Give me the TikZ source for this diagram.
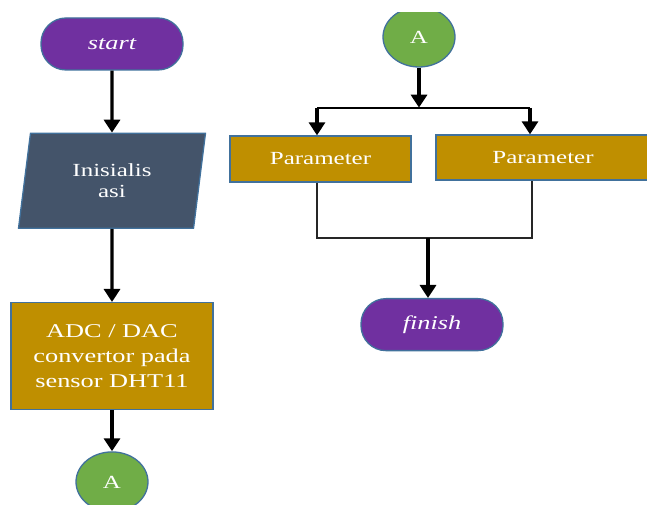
\documentclass[tikz,border=0pt]{standalone}
\usepackage{fontspec}
\setmainfont[FakeStretch=1.35]{Liberation Serif}
\usepackage{xcolor}
\usetikzlibrary{positioning,arrows.meta,shapes.geometric}
\definecolor{termcol}{HTML}{7030A0}
\definecolor{inputcol}{HTML}{44546A}
\definecolor{actcol}{HTML}{BF8F00}
\definecolor{concol}{HTML}{70AD47}
\definecolor{bordercol}{HTML}{41719C}
\tikzset{
>={Triangle[width=16pt,length=13pt]},
}
\begin{document}
\begin{tikzpicture}[x=1pt,y=1pt]
    \tikzset{
        every node/.style={text=white, font=\fontsize{18.5}{21}\selectfont},
        terminal/.style={rectangle, rounded corners=25pt, draw=bordercol, fill=termcol, line width=1.3pt, minimum width=142pt, minimum height=52pt, font=\fontsize{19.5}{22}\selectfont\itshape},
        input/.style={trapezium, trapezium left angle=73.6, trapezium right angle=106.4, trapezium stretches body, draw=bordercol, fill=inputcol, line width=1.3pt, minimum width=187pt, minimum height=95pt, align=center},
        action/.style={rectangle, draw=bordercol, fill=actcol, line width=1.3pt, minimum width=181pt, minimum height=46pt, align=center},
        connector/.style={ellipse, draw=bordercol, fill=concol, line width=1.3pt, minimum width=72pt, minimum height=60pt, inner sep=0pt},
        myarrow/.style={draw, line width=3.4pt, ->},
        myline/.style={draw, line width=1.3pt, black!85},
    }
    \useasboundingbox (0,0) rectangle (647,505);
    \clip (0,0) rectangle (647,492);

    \node[terminal] (item1) at (112,461) {start};
    \node[input, below=62pt of item1] (item2) {Inisialis\\asi};
    \node[action, below=73pt of item2, minimum width=202pt, minimum height=107pt,
          font=\fontsize{19.5}{25}\selectfont] (item3) {ADC / DAC\\convertor pada\\sensor DHT11};
    \node[connector, below=41pt of item3] (item4) {A};

    \node[connector] (item5) at (419,468) {A};
    \node (AuxNode01) [coordinate, below=40pt of item5] {};
    \coordinate (AuxNode02) at (317,397);
    \coordinate (AuxNode03) at (530,397);
    \node[action] (item6) at (320.5,346) {Parameter};
    \node[action, minimum width=214pt, minimum height=45pt] (item7) at (543,347.5) {Parameter};
    \coordinate (AuxNode05) at (428,267);
    \node[terminal, below=60pt of AuxNode05, xshift=4pt] (item8) {finish};

    \path[myarrow] (item1) -- (item2);
    \path[myarrow] (item2) -- (item3);
    \path[myarrow] (item3) -- (item4);
    \path[myarrow] (item5) -- (AuxNode01);
    \draw[line width=2.4pt] (AuxNode02) -- (AuxNode03);
    \path[myarrow] (AuxNode02) -- (AuxNode02 |- item6.north);
    \path[myarrow] (AuxNode03) -- (AuxNode03 |- item7.north);
    \path[myline] (AuxNode02 |- item6.south) |- (AuxNode05) -| ([xshift=2pt]AuxNode03 |- item7.south);
    \path[myarrow] (AuxNode05) -- (AuxNode05 |- item8.north);
\end{tikzpicture}
\end{document}
